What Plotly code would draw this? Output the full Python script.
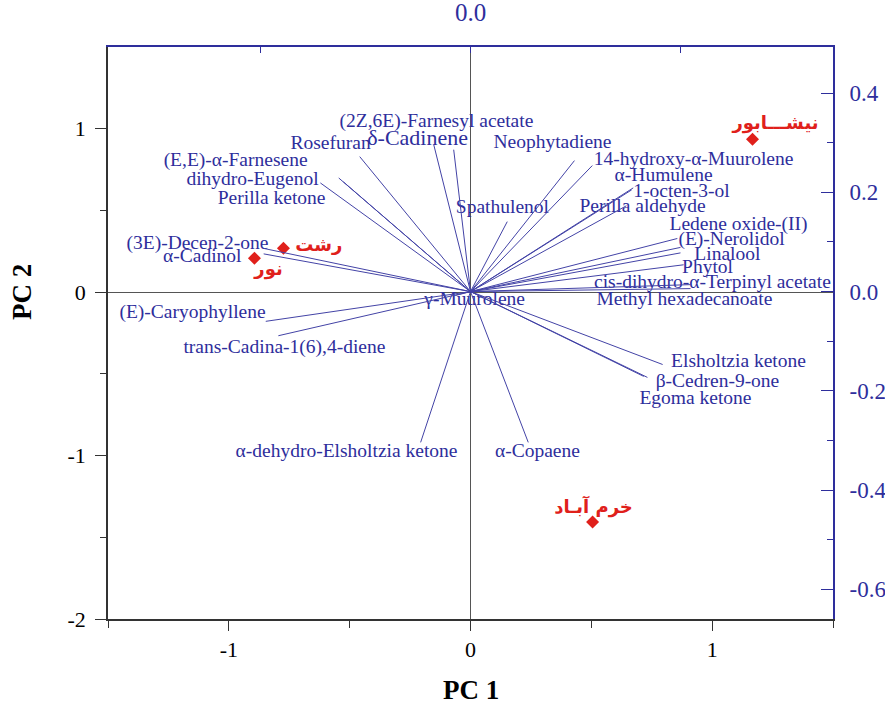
import plotly.graph_objects as go

# ---- loadings (vectors), in loading units (top / right axes) ----
var_names = [
    "(2Z,6E)-Farnesyl acetate", "δ-Cadinene", "Rosefuran", "(E,E)-α-Farnesene",
    "dihydro-Eugenol", "Perilla ketone", "(3E)-Decen-2-one", "α-Cadinol",
    "(E)-Caryophyllene", "trans-Cadina-1(6),4-diene", "α-dehydro-Elsholtzia ketone",
    "α-Copaene", "Elsholtzia ketone", "β-Cedren-9-one", "Egoma ketone",
    "Methyl hexadecanoate", "cis-dihydro-α-Terpinyl acetate", "Phytol", "Linalool",
    "(E)-Nerolidol", "Ledene oxide-(II)", "Perilla aldehyde", "1-octen-3-ol",
    "α-Humulene", "14-hydroxy-α-Muurolene", "Neophytadiene", "Spathulenol", "γ-Muurolene",
]
load_x = [-0.032, -0.070, -0.211, -0.251, -0.286, -0.242, -0.394, -0.394,
          -0.390, -0.366, -0.095, 0.110, 0.366, 0.337, 0.330,
          0.419, 0.419, 0.406, 0.400, 0.400, 0.394, 0.297, 0.310,
          0.307, 0.232, 0.198, 0.070, -0.029]
load_y = [0.286, 0.296, 0.272, 0.229, 0.219, 0.221, 0.087, 0.076,
          -0.060, -0.089, -0.304, -0.304, -0.147, -0.173, -0.171,
          0.006, 0.014, 0.054, 0.078, 0.089, 0.107, 0.173, 0.209,
          0.205, 0.254, 0.264, 0.141, -0.008]

# label anchor positions (PC1 / PC2 units)
lab_x = [-0.141, -0.219, -0.579, -0.972, -0.902, -0.823, -1.130, -1.110,
         -1.150, -0.770, -0.513, 0.277, 1.109, 1.022, 0.931,
         0.885, 1.001, 0.981, 1.063, 1.080, 1.109, 0.712, 0.873,
         0.799, 0.923, 0.339, 0.132, 0.017]
lab_y = [1.040, 0.937, 0.906, 0.802, 0.686, 0.570, 0.294, 0.214,
         -0.129, -0.343, -0.979, -0.979, -0.428, -0.551, -0.655,
         -0.049, 0.055, 0.147, 0.226, 0.318, 0.410, 0.520, 0.612,
         0.710, 0.808, 0.912, 0.514, -0.049]

# ---- scores (samples), PC1 / PC2 units ----
site_names = ["نیشـــابور", "رشت", "نور", "خرم آبـاد"]
score_x = [1.167, -0.774, -0.894, 0.505]
score_y = [0.936, 0.269, 0.208, -1.407]
site_lab_x = [1.262, -0.628, -0.836, 0.509]
site_lab_y = [1.028, 0.281, 0.135, -1.322]

# axis ticks
pc1_ticks = [-1, 0, 1]
pc2_ticks = [-2, -1, 0, 1]
right_ticks = [-0.6, -0.4, -0.2, 0.0, 0.2, 0.4]
top_ticks = [-0.4, 0.0, 0.4]

BLUE = "#2e2e9c"
LINE = "#4343a6"
RED = "#e0201b"
SERIF = "Liberation Serif, Times New Roman, serif"

fig = go.Figure()

# vectors
vx, vy = [], []
for x, y in zip(load_x, load_y):
    vx += [0, x, None]
    vy += [0, y, None]
fig.add_trace(go.Scatter(x=vx, y=vy, mode="lines", xaxis="x2", yaxis="y2",
                         line=dict(color=LINE, width=1), hoverinfo="skip",
                         showlegend=False))

# variable labels
sizes = [19.5 if n != "δ-Cadinene" else 22 for n in var_names]
fig.add_trace(go.Scatter(x=lab_x, y=lab_y, mode="text", text=var_names,
                         textposition="middle center",
                         textfont=dict(family=SERIF, size=sizes, color=BLUE),
                         cliponaxis=False, showlegend=False, hoverinfo="skip"))

# scores
fig.add_trace(go.Scatter(x=score_x, y=score_y, mode="markers",
                         marker=dict(symbol="diamond", size=10, color=RED),
                         showlegend=False))
fig.add_trace(go.Scatter(x=site_lab_x, y=site_lab_y, mode="text", text=site_names,
                         textposition="middle center",
                         textfont=dict(family="DejaVu Sans, Noto Sans, sans-serif",
                                       size=18, color=RED, weight="bold"),
                         cliponaxis=False, showlegend=False))

fig.update_layout(
    width=885, height=707,
    margin=dict(l=108, r=52, t=47, b=88, autoexpand=False),
    plot_bgcolor="white", paper_bgcolor="white",
    font=dict(family=SERIF, color="black"),
    xaxis=dict(range=[-1.5, 1.5], tickvals=pc1_ticks, ticktext=[str(t) for t in pc1_ticks],
               ticks="outside", ticklen=10, automargin=False,
               tickcolor="#333", tickwidth=1.2, showline=True, linecolor="#333",
               linewidth=1.5, showgrid=False, zeroline=True, zerolinecolor="#555",
               zerolinewidth=1, tickfont=dict(family=SERIF, size=22, color="black"),
               minor=dict(tickvals=[-1.5, -0.5, 0.5, 1.5], ticks="outside",
                          ticklen=7, tickcolor="#333")),
    yaxis=dict(range=[-2, 1.5], tickvals=pc2_ticks, ticktext=[str(t) for t in pc2_ticks],
               ticks="outside", ticklen=11, automargin=False, ticklabelstandoff=5,
               tickcolor="#333", tickwidth=1.2, showline=True, linecolor="#333",
               linewidth=1.5, showgrid=False, zeroline=True, zerolinecolor="#555",
               zerolinewidth=1, tickfont=dict(family=SERIF, size=22, color="black"),
               minor=dict(tickvals=[-1.5, -0.5, 0.5], ticks="outside",
                          ticklen=6, tickcolor="#333")),
    xaxis2=dict(overlaying="x", side="top", range=[-0.6905, 0.6905], automargin=False,
                tickvals=top_ticks, ticktext=["" if t != 0 else "0.0" for t in top_ticks],
                ticks="inside", ticklen=6, tickcolor=BLUE, showline=True,
                linecolor=BLUE, linewidth=2, showgrid=False, zeroline=False,
                ticklabelstandoff=14,
                tickfont=dict(family=SERIF, size=25, color=BLUE)),
    yaxis2=dict(overlaying="y", side="right", range=[-0.660, 0.493], automargin=False,
                tickvals=right_ticks, ticktext=[f"{t:.1f}" for t in right_ticks],
                ticks="inside", ticklen=12, tickcolor=BLUE, showline=True,
                linecolor=BLUE, linewidth=2, showgrid=False, zeroline=False,
                ticklabelstandoff=10,
                tickfont=dict(family=SERIF, size=23, color=BLUE),
                minor=dict(tickvals=[-0.5, -0.3, -0.1, 0.1, 0.3], ticks="inside",
                           ticklen=6, tickcolor=BLUE)),
    annotations=[
        dict(text="<b>PC 1</b>", xref="paper", yref="paper", x=0.5, y=0,
             yshift=-71, showarrow=False, font=dict(family=SERIF, size=27, color="black"),
             xanchor="center", yanchor="middle"),
        dict(text="<b>PC 2</b>", xref="paper", yref="paper", x=0, y=0.5715,
             xshift=-86, showarrow=False, textangle=-90,
             font=dict(family=SERIF, size=27, color="black"),
             xanchor="center", yanchor="middle"),
    ],
)

fig.write_html("out.html", config={"displayModeBar": False},
               post_script="document.body.style.margin='0';document.body.style.overflow='hidden';")
